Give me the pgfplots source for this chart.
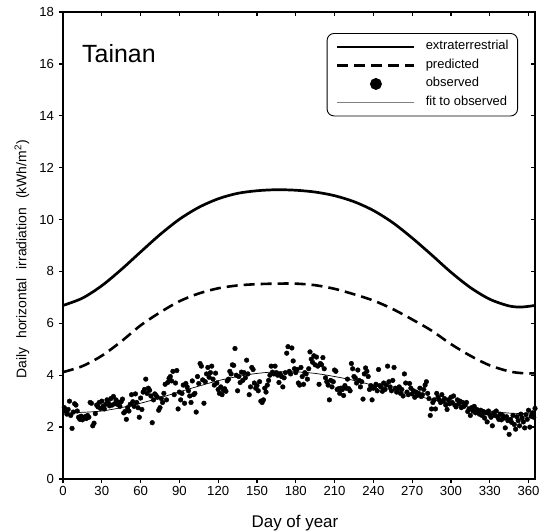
\documentclass[border=0pt]{standalone}
\usepackage{pgfplots}
\pgfplotsset{compat=1.18}
\usepackage{fontspec}
\setmainfont{Liberation Sans}

\pgfplotstableread{
x y
0 6.69
15 6.97
30 7.45
45 8.07
60 8.75
75 9.42
90 10.01
105 10.47
120 10.80
135 11.01
150 11.11
165 11.15
180 11.13
195 11.06
210 10.92
225 10.69
240 10.35
255 9.88
270 9.29
285 8.64
300 7.97
315 7.38
330 6.93
345 6.67
355 6.63
365 6.69
}\extra

\pgfplotstableread{
x y
0 4.12
15 4.35
30 4.75
45 5.30
60 5.92
75 6.42
90 6.85
105 7.15
120 7.35
135 7.46
150 7.51
165 7.53
180 7.53
195 7.47
210 7.33
225 7.12
240 6.88
255 6.55
270 6.15
285 5.72
300 5.20
315 4.75
330 4.38
345 4.15
355 4.08
365 4.07
}\pred

\pgfplotstableread{
x y
0 2.55
15 2.57
30 2.62
45 2.75
60 2.92
75 3.13
90 3.36
105 3.58
120 3.79
135 3.95
150 4.07
165 4.13
180 4.13
195 4.07
210 3.95
225 3.80
240 3.61
255 3.42
270 3.24
285 3.07
300 2.91
315 2.76
330 2.62
345 2.54
360 2.52
365 2.53
}\fit

\begin{document}
\begin{tikzpicture}
\useasboundingbox (-63bp,-53bp) rectangle (481bp,479bp);
\begin{axis}[
  at={(0,0)}, anchor=south west, scale only axis,
  width=472bp, height=467bp,
  xmin=0, xmax=365, ymin=0, ymax=18,
  xtick={0,30,...,360}, ytick={0,2,...,18},
  xtick pos=left, ytick pos=left, tick align=outside,
  major tick length=4bp,
  every tick/.style={black, line width=1.3bp},
  axis line style={line width=2bp},
  tick label style={font=\fontsize{13.2}{15}\selectfont},
  yticklabel style={xshift=-1.5bp},
  /pgf/number format/assume math mode=true,
  every axis x label/.style={at={(axis description cs:0.4915,0)}, anchor=base, yshift=-48bp, font=\fontsize{17}{20}\selectfont},
  every axis y label/.style={at={(axis description cs:-0.087,0.47)}, rotate=90, anchor=center, font=\fontsize{14}{16}\selectfont},
  xlabel={Day of year},
  ylabel={Daily\hspace{9bp}horizontal\hspace{9bp}irradiation\hspace{9bp}(kWh/m\textsuperscript{2})},
  legend image code/.code={\draw[#1] (0bp,0bp) -- (77bp,0bp);},
  legend style={at={(0.964,0.955)}, anchor=north east, draw=black, line width=0.9bp,
    rounded corners=7bp, font=\fontsize{13}{15}\selectfont,
    inner xsep=9bp, inner ysep=7.5bp, row sep=6.5bp,
    nodes={inner sep=0bp, text height=9bp, text depth=3bp},
    /tikz/every odd column/.append style={column sep=10bp}},
  legend cell align=left,
]
\addplot[black, line width=2.7bp, smooth] table {\extra};
\addlegendentry{extraterrestrial}
\addplot[black, line width=2.6bp, smooth, dash pattern=on 11bp off 6bp] table {\pred};
\addlegendentry{predicted}
\addplot[only marks, mark=*, mark size=2.35bp, black,
  legend image code/.code={\fill[black] (38.5bp,0bp) circle (5.5bp);}] coordinates {
(1,2.75) (2,2.62) (3,2.50) (4,2.68) (5,3.00) (6,2.45) (7,1.95) (8,2.58) (9,2.90) (10,2.85)
(11,2.62) (12,2.38) (13,2.30) (14,2.42) (15,2.28) (16,2.35) (17,2.40) (18,2.33) (19,2.45) (20,2.38)
(21,2.95) (22,2.92) (23,2.05) (24,2.15) (25,2.52) (26,2.85) (27,2.78) (28,2.95) (29,2.72) (30,3.00)
(31,2.80) (32,2.70) (33,2.88) (34,3.05) (35,2.95) (36,2.82) (37,3.10) (38,2.85) (39,3.18) (40,2.90)
(41,3.05) (42,2.88) (43,2.95) (44,2.80) (45,2.98) (46,3.08) (47,2.55) (48,2.60) (49,2.30) (50,2.75)
(51,2.62) (52,2.88) (53,3.25) (54,2.98) (55,2.80) (56,3.28) (57,2.95) (58,2.75) (59,2.38) (60,3.12)
(61,2.68) (62,3.35) (63,3.45) (64,3.85) (65,3.30) (66,3.50) (67,3.42) (68,3.20) (69,2.17) (70,3.05)
(71,3.28) (72,3.22) (73,3.15) (74,2.65) (75,2.75) (76,3.10) (77,2.95) (78,3.30) (79,3.65) (80,3.05)
(81,3.72) (82,3.88) (83,3.95) (84,3.78) (85,4.15) (86,3.25) (87,3.70) (88,4.18) (89,2.70) (90,3.35)
(91,3.05) (92,3.30) (93,3.62) (94,2.92) (95,3.68) (96,3.55) (97,3.40) (98,3.20) (99,2.95) (100,3.78)
(101,3.25) (102,3.30) (103,2.58) (104,3.95) (105,3.68) (106,4.45) (107,4.35) (108,3.82) (109,2.92) (110,3.75)
(111,4.05) (112,4.30) (113,3.92) (114,4.10) (115,4.35) (116,3.85) (117,3.62) (118,4.08) (119,3.70) (120,3.45)
(121,3.30) (122,3.55) (123,3.25) (124,3.42) (125,3.48) (126,3.38) (127,3.78) (128,3.85) (129,4.15) (130,4.05)
(131,4.40) (132,4.38) (133,5.03) (134,4.00) (135,3.40) (136,3.95) (137,3.72) (138,4.12) (139,3.80) (140,4.10)
(141,3.90) (142,4.58) (143,4.05) (144,3.25) (145,3.55) (146,4.30) (147,4.22) (148,3.70) (149,3.50) (150,3.60)
(151,3.40) (152,3.75) (153,3.00) (154,2.95) (155,3.05) (156,3.50) (157,3.35) (158,3.62) (159,3.80) (160,4.00)
(161,4.35) (162,4.12) (163,4.05) (164,4.35) (165,4.10) (166,4.00) (167,3.72) (168,4.05) (169,3.95) (170,3.55)
(171,3.90) (172,4.10) (173,4.85) (174,5.10) (175,4.15) (176,4.05) (177,5.05) (178,4.55) (179,4.25) (180,4.10)
(181,4.22) (182,3.70) (183,3.62) (184,4.30) (185,3.95) (186,3.65) (187,4.10) (188,4.05) (189,3.85) (190,4.25)
(191,4.90) (192,4.62) (193,4.50) (194,4.75) (195,4.40) (196,4.70) (197,4.35) (198,3.65) (199,4.45) (200,4.40)
(201,4.68) (202,4.25) (203,3.90) (204,3.75) (205,3.62) (206,3.05) (207,3.80) (208,3.55) (209,3.75) (210,4.20)
(211,4.15) (212,3.45) (213,3.48) (214,3.30) (215,3.50) (216,3.45) (217,3.22) (218,3.60) (219,3.50) (220,3.85)
(221,3.48) (222,3.40) (223,4.45) (224,4.25) (225,3.95) (226,3.90) (227,3.70) (228,4.20) (229,3.80) (230,3.55)
(231,3.75) (232,3.08) (233,4.05) (234,4.28) (235,4.15) (236,3.95) (237,3.45) (238,3.60) (239,3.05) (240,3.50)
(241,3.55) (242,3.65) (243,3.40) (244,4.22) (245,3.60) (246,3.55) (247,3.38) (248,3.70) (249,3.45) (250,3.62)
(251,4.35) (252,3.75) (253,3.55) (254,3.40) (255,3.80) (256,4.30) (257,3.50) (258,3.35) (259,3.48) (260,3.55)
(261,3.30) (262,3.45) (263,3.20) (264,4.05) (265,3.70) (266,3.35) (267,3.25) (268,3.68) (269,3.50) (270,3.28)
(271,3.40) (272,3.15) (273,3.35) (274,3.22) (275,3.30) (276,3.50) (277,3.18) (278,3.25) (279,3.45) (280,3.62)
(281,3.75) (282,3.30) (283,3.10) (284,2.45) (285,2.70) (286,2.95) (287,3.05) (288,2.70) (289,3.30) (290,3.15)
(291,3.05) (292,2.95) (293,3.25) (294,3.00) (295,3.10) (296,2.85) (297,2.68) (298,3.05) (299,2.90) (300,3.15)
(301,2.95) (302,3.20) (303,2.85) (304,2.78) (305,3.05) (306,2.90) (307,3.00) (308,2.75) (309,2.95) (310,2.80)
(311,2.85) (312,2.95) (313,2.60) (314,2.70) (315,2.45) (316,2.75) (317,2.62) (318,2.80) (319,2.55) (320,2.68)
(321,2.58) (322,2.50) (323,2.65) (324,2.45) (325,2.60) (326,2.35) (327,2.55) (328,2.20) (329,2.62) (330,2.48)
(331,2.38) (332,2.05) (333,2.55) (334,2.45) (335,2.62) (336,2.40) (337,2.30) (338,2.50) (339,2.28) (340,2.45)
(341,2.35) (342,1.97) (343,2.40) (344,2.25) (345,1.72) (346,2.30) (347,2.18) (348,2.45) (349,2.10) (350,1.92)
(351,2.40) (352,2.25) (353,2.05) (354,2.50) (355,2.35) (356,2.20) (357,1.97) (358,2.48) (359,2.30) (360,2.65)
(361,2.00) (362,2.42) (363,2.55) (364,2.38) (365,2.72)
};
\addlegendentry{observed}
\addplot[black, line width=0.7bp, smooth,
  legend image code/.code={\draw[gray, line width=1bp] (0bp,0bp) -- (77bp,0bp);}] table {\fit};
\addlegendentry{fit to observed}
\node[anchor=base west, font=\fontsize{25}{30}\selectfont, inner sep=0pt] at (axis cs:14.7,16.05) {Tainan};
\end{axis}
\begin{axis}[
  at={(0,0)}, anchor=south west, scale only axis,
  width=472bp, height=467bp,
  xmin=0, xmax=365, ymin=0, ymax=18,
  xtick={0,30,...,360}, ytick={0,2,...,18},
  xtick pos=right, ytick pos=right, tick align=inside,
  major tick length=4bp,
  every tick/.style={black, line width=1.3bp},
  xticklabels={}, yticklabels={},
  axis line style={draw=none},
]
\end{axis}
\end{tikzpicture}
\end{document}
